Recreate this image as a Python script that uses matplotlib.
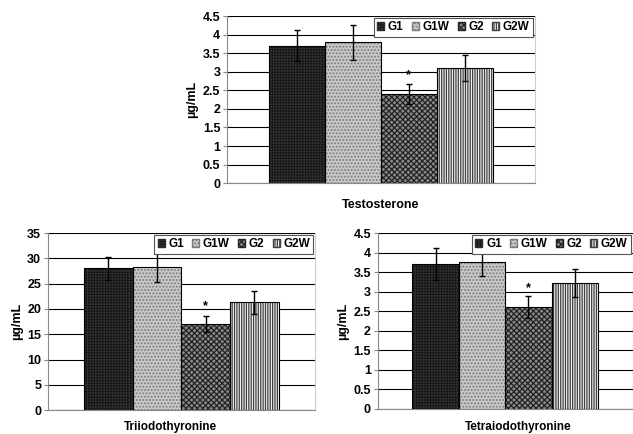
import numpy as np
import matplotlib
matplotlib.use("Agg")
import matplotlib.pyplot as plt
from matplotlib.patches import Patch

plt.rcParams['font.family'] = ['Liberation Sans', 'DejaVu Sans']
plt.rcParams['font.weight'] = 'bold'
plt.rcParams['hatch.linewidth'] = 0.9

groups = ['G1', 'G1W', 'G2', 'G2W']

testo_mean = [3.7, 3.8, 2.4, 3.1]
testo_err = [0.42, 0.47, 0.27, 0.36]

t3_mean = [28.0, 28.2, 17.1, 21.3]
t3_err = [2.2, 2.9, 1.6, 2.3]

t4_mean = [3.72, 3.75, 2.6, 3.22]
t4_err = [0.41, 0.35, 0.28, 0.35]

# fill style per group: (facecolor, hatch, hatch colour)
styles = [('#080808', '++++++', '#2c2c2c'),
          ('#c8c8c8', '.....', '#7a7a7a'),
          ('#8a8a8a', 'xxxxxx', '#222222'),
          ('#f2f2f2', '|||||||', '#404040')]


def draw_panel(ax, means, errs, ymax, ystep, star_gap):
    x = np.arange(len(groups))
    for i, (fc, hatch, hc) in enumerate(styles):
        ax.bar(x[i], means[i], width=1.0, color=fc, edgecolor=hc, hatch=hatch, linewidth=0, zorder=2)
        ax.bar(x[i], means[i], width=1.0, facecolor='none', edgecolor='black', linewidth=0.8, zorder=3)
    ax.errorbar(x, means, yerr=errs, fmt='none', ecolor='black', elinewidth=1, capsize=2, zorder=4)
    ax.text(x[2], means[2] + errs[2] + star_gap, '*', ha='center', va='center',
            fontsize=9, fontweight='bold', zorder=5)
    ticks = np.arange(0, ymax + ystep / 2, ystep)
    ax.set_xlim(-1.24, 4.25)
    ax.set_ylim(0, ymax)
    ax.set_yticks(ticks)
    ax.set_yticklabels([f'{v:g}' for v in ticks], fontsize=9, fontweight='bold')
    ax.set_xticks([])
    ax.yaxis.grid(True, color='black', linewidth=0.8, zorder=0)
    ax.set_axisbelow(True)
    ax.spines['top'].set_visible(False)
    ax.spines['right'].set_color('#cccccc')
    ax.spines['left'].set_color('#888888')
    ax.spines['bottom'].set_color('#888888')
    ax.tick_params(axis='y', length=3, color='#888888', pad=2)
    ax.set_ylabel('µg/mL', fontsize=9, fontweight='bold', labelpad=3)
    handles = [Patch(facecolor=fc, edgecolor=hc, hatch=hatch) for fc, hatch, hc in styles]
    leg = ax.legend(handles, groups, loc='upper right', ncol=4, frameon=True, fancybox=False,
                    prop={'size': 8.5, 'weight': 'bold'},
                    edgecolor='#555555', handlelength=0.6, handleheight=0.6, handletextpad=0.3,
                    columnspacing=0.7, borderpad=0.3, borderaxespad=0.15, framealpha=1)
    leg.get_frame().set_linewidth(0.8)


fig = plt.figure(figsize=(6.33, 4.34), dpi=100)

ax1 = fig.add_axes([0.359, 0.578, 0.486, 0.385])
draw_panel(ax1, testo_mean, testo_err, 4.5, 0.5, 0.25)
fig.text(0.601, 0.527, 'Testosterone', ha='center', va='center', fontsize=9, fontweight='bold')

ax2 = fig.add_axes([0.076, 0.055, 0.422, 0.408])
draw_panel(ax2, t3_mean, t3_err, 35, 5, 1.8)
fig.text(0.27, 0.016, 'Triiodothyronine', ha='center', va='center', fontsize=8.5, fontweight='bold')

ax3 = fig.add_axes([0.597, 0.058, 0.403, 0.405])
draw_panel(ax3, t4_mean, t4_err, 4.5, 0.5, 0.22)
fig.text(0.818, 0.016, 'Tetraiodothyronine', ha='center', va='center', fontsize=8.5, fontweight='bold')

fig.savefig('out.png', dpi=100)
